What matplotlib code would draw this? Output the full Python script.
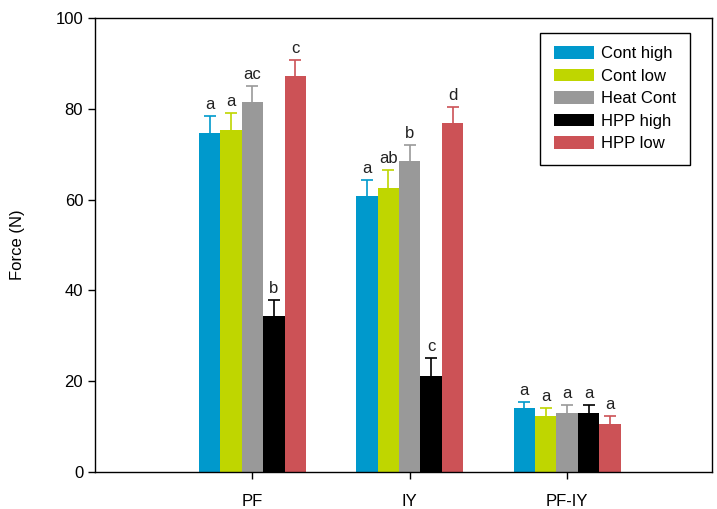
import matplotlib.pyplot as plt
import numpy as np

groups = ["PF", "IY", "PF-IY"]
series = ["Cont high", "Cont low", "Heat Cont", "HPP high", "HPP low"]
colors = ["#0099CC", "#BFD600", "#999999", "#000000", "#CC5256"]

means = {
    "Cont high": [74.7, 60.8, 14.1],
    "Cont low": [75.3, 62.6, 12.3],
    "Heat Cont": [81.5, 68.5, 13.0],
    "HPP high": [34.4, 21.1, 13.0],
    "HPP low": [87.2, 76.9, 10.6],
}
errors = {
    "Cont high": [3.7, 3.5, 1.3],
    "Cont low": [3.7, 3.9, 1.8],
    "Heat Cont": [3.5, 3.5, 1.8],
    "HPP high": [3.5, 4.0, 1.7],
    "HPP low": [3.5, 3.5, 1.7],
}
letters = {
    "Cont high": ["a", "a", "a"],
    "Cont low": ["a", "ab", "a"],
    "Heat Cont": ["ac", "b", "a"],
    "HPP high": ["b", "c", "a"],
    "HPP low": ["c", "d", "a"],
}

plt.rcParams["font.family"] = ["Liberation Sans", "DejaVu Sans"]

fig = plt.figure(figsize=(7.17, 5.09), dpi=100)
ax = fig.add_axes([95 / 717, 1 - 472 / 509, (712 - 95) / 717, (472 - 18) / 509])

x = np.arange(len(groups))
width = 0.136
for i, name in enumerate(series):
    pos = x + (i - 2) * width
    ax.bar(pos, means[name], width, color=colors[i], label=name, zorder=2)
    _, caps, _ = ax.errorbar(pos, means[name], yerr=[np.zeros(3), errors[name]], fmt="none",
                             ecolor=colors[i], elinewidth=1.2, capsize=4.5, capthick=1.2, zorder=1)
    caps[0].set_visible(False)  # no cap at the bar top
    for p, m, e, t in zip(pos, means[name], errors[name], letters[name]):
        ax.text(p, m + e + 0.9, t, ha="center", va="bottom", fontsize=12, color="#222222")

ax.set_xlim(-1.0, 2.92)
ax.set_ylim(0, 100)
ax.set_yticks(range(0, 101, 20))
ax.set_xticks(x)
ax.set_xticklabels(groups)
ax.tick_params(axis="both", direction="out", labelsize=12, length=5, width=1)
ax.tick_params(axis="x", pad=11)
ax.set_ylabel("Force (N)", fontsize=12, labelpad=22)
for s in ax.spines.values():
    s.set_linewidth(1.0)

leg = ax.legend(loc="upper right", bbox_to_anchor=(0.964, 0.967), borderaxespad=0,
                fontsize=12, fancybox=False, edgecolor="black", handlelength=2.4,
                handleheight=0.75, labelspacing=0.45, borderpad=0.8, handletextpad=0.45,
                framealpha=1)
leg.get_frame().set_linewidth(1.0)

fig.savefig("out.png", dpi=100)
